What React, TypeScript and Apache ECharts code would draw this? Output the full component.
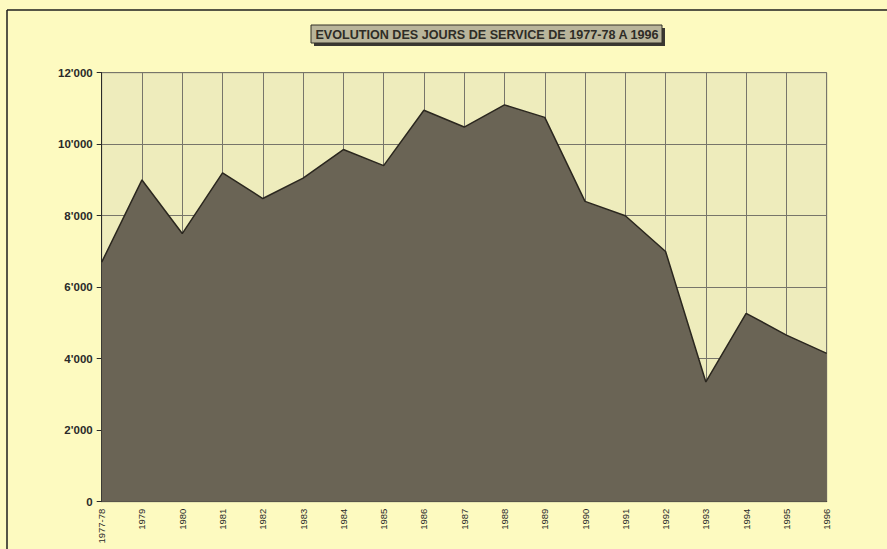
import React, { useEffect, useRef } from "react";
import * as echarts from "echarts";

const TITLE = "EVOLUTION DES JOURS DE SERVICE DE 1977-78 A 1996";
const categories = [
  "1977-78", "1979", "1980", "1981", "1982", "1983", "1984", "1985", "1986", "1987",
  "1988", "1989", "1990", "1991", "1992", "1993", "1994", "1995", "1996",
];
const serviceDays = [
  6700, 9000, 7500, 9200, 8480, 9050, 9850, 9400, 10950, 10480,
  11100, 10750, 8400, 8000, 7000, 3350, 5270, 4660, 4150,
];
const yMin = 0;
const yMax = 12000;
const yInterval = 2000;

const fmt = (v: number) => {
  if (v === 0) return "0";
  const s = String(Math.round(v));
  return s.replace(/\B(?=(\d{3})+(?!\d))/g, "'");
};

export default function App() {
  const ref = useRef<HTMLDivElement>(null);
  useEffect(() => {
    if (!ref.current) return;
    const chart = echarts.init(ref.current, undefined, { renderer: "svg" });
    chart.setOption({
      animation: false,
      backgroundColor: "#fdfac0",
      grid: {
        left: 101.7,
        right: 60.3,
        top: 72.7,
        bottom: 47.3,
        show: true,
        backgroundColor: "#eeecbc",
        borderColor: "#8a8878",
        borderWidth: 1,
      },
      graphic: [
        { type: "line", shape: { x1: 7, y1: 10, x2: 887, y2: 10 }, style: { stroke: "#1e1e1e", lineWidth: 1.5 } },
        { type: "line", shape: { x1: 7, y1: 10, x2: 7, y2: 549 }, style: { stroke: "#1e1e1e", lineWidth: 1.5 } },
        { type: "rect", shape: { x: 314, y: 28, width: 351, height: 18 }, style: { fill: "#3a3832" } },
        { type: "rect", shape: { x: 311, y: 25, width: 351, height: 18 }, style: { fill: "#b9b59b", stroke: "#333028", lineWidth: 1 } },
        {
          type: "text",
          x: 487,
          y: 34.5,
          style: {
            text: TITLE,
            fill: "#2e2c26",
            font: "bold 12.6px Arial, 'Liberation Sans', sans-serif",
            align: "center",
            verticalAlign: "middle",
          },
        },
      ],
      xAxis: {
        type: "category",
        data: categories,
        boundaryGap: false,
        axisLine: { show: true, lineStyle: { color: "#2a2a2a", width: 1 } },
        axisTick: { show: false },
        splitLine: { show: true, lineStyle: { color: "#77756a", width: 1 } },
        axisLabel: {
          rotate: 90,
          interval: 0,
          margin: 7,
          fontSize: 9.5,
          color: "#2a2a2a",
          fontFamily: "Arial, 'Liberation Sans', sans-serif",
        },
      },
      yAxis: {
        type: "value",
        min: yMin,
        max: yMax,
        interval: yInterval,
        axisLine: { show: true, lineStyle: { color: "#2a2a2a", width: 1 } },
        axisTick: { show: true, length: 5, lineStyle: { color: "#2a2a2a" } },
        splitLine: { show: true, lineStyle: { color: "#77756a", width: 1 } },
        axisLabel: {
          formatter: (v: number) => fmt(v),
          margin: 9,
          fontSize: 11.5,
          fontWeight: "bold",
          color: "#2a2a2a",
          fontFamily: "Arial, 'Liberation Sans', sans-serif",
        },
      },
      series: [
        {
          type: "line",
          data: serviceDays,
          symbol: "none",
          lineStyle: { color: "#2b271f", width: 1.5 },
          areaStyle: { color: "#6a6455", opacity: 1 },
        },
      ],
    });
    return () => chart.dispose();
  }, []);
  return (
    <div
      ref={ref}
      style={{ position: "fixed", left: 0, top: 0, width: 887, height: 549 }}
    />
  );
}
